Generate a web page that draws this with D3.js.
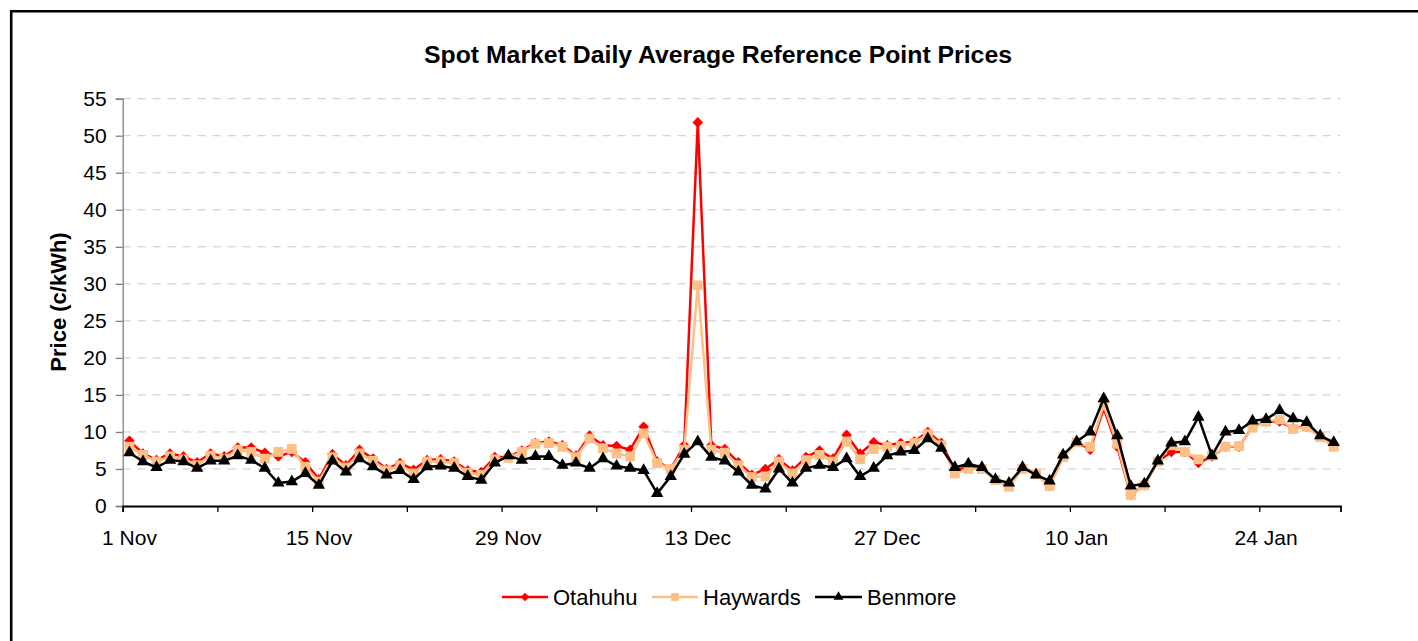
<!DOCTYPE html>
<html>
<head>
<meta charset="utf-8">
<script src="https://cdn.jsdelivr.net/npm/d3@7"></script>
<style>
  html, body { margin: 0; padding: 0; background: #fff; }
  svg { display: block; }
  text { font-family: "Liberation Sans", Arial, Helvetica, sans-serif; }
</style>
</head>
<body>
<svg id="chart" width="1418" height="641"></svg>
<script>
// ---------- data ----------
const title = "Spot Market Daily Average Reference Point Prices";
const yTitle = "Price (c/kWh)";
const seriesNames = ["Otahuhu", "Haywards", "Benmore"];
const startDate = "2007-11-01";
const dayCount = 90;
const xTickLabels = ["1 Nov", "15 Nov", "29 Nov", "13 Dec", "27 Dec", "10 Jan", "24 Jan"];
const yTicks = [0, 5, 10, 15, 20, 25, 30, 35, 40, 45, 50, 55];

const otahuhu = [
  8.8, 7.1, 6.2, 7.1, 6.7, 5.9, 7.1, 6.7, 7.9, 7.9,
  7.2, 6.7, 7.3, 5.9, 3.6, 7.0, 5.5, 7.6, 6.4, 5.0,
  5.8, 4.9, 6.2, 6.3, 6.0, 4.8, 4.6, 6.6, 6.6, 7.5,
  8.5, 8.7, 8.2, 6.8, 9.5, 8.2, 8.1, 7.6, 10.7, 6.0,
  5.0, 8.2, 51.8, 8.2, 7.7, 5.9, 4.2, 5.0, 6.3, 4.8,
  6.6, 7.5, 6.4, 9.6, 7.1, 8.6, 8.2, 8.5, 8.7, 10.0,
  8.5, 4.9, 5.2, 5.1, 3.5, 2.7, 5.1, 4.4, 2.7, 6.7,
  8.7, 7.6, 13.2, 8.0, 1.5, 2.8, 6.0, 7.3, 7.3, 5.8,
  6.7, 8.0, 8.0, 10.7, 11.4, 11.4, 10.5, 10.7, 9.4, 8.1
];
const haywards = [
  8.0, 6.9, 6.0, 6.7, 6.3, 5.5, 6.8, 6.4, 7.6, 7.3,
  6.4, 7.3, 7.7, 5.3, 3.3, 6.6, 5.2, 7.1, 6.1, 4.8,
  5.5, 4.4, 6.0, 6.0, 5.8, 4.5, 4.2, 6.3, 6.5, 7.3,
  8.4, 8.5, 8.0, 6.6, 9.1, 7.8, 7.1, 6.7, 9.8, 5.8,
  5.0, 7.6, 29.8, 7.6, 7.2, 5.5, 3.9, 4.0, 6.0, 4.4,
  6.2, 6.9, 6.0, 8.7, 6.3, 7.7, 8.0, 8.1, 8.5, 9.7,
  8.2, 4.4, 5.0, 5.0, 3.5, 2.6, 5.0, 4.3, 2.7, 6.6,
  8.6, 8.0, 13.6, 8.4, 1.5, 2.8, 6.0, 8.2, 7.3, 6.3,
  6.8, 8.0, 8.1, 10.6, 11.4, 11.7, 10.4, 10.7, 9.3, 8.0
];
const benmore = [
  7.2, 6.0, 5.2, 6.2, 6.0, 5.1, 6.1, 6.1, 6.8, 6.2,
  5.1, 3.1, 3.3, 4.4, 2.8, 6.1, 4.6, 6.4, 5.3, 4.2,
  4.8, 3.6, 5.3, 5.4, 5.1, 4.0, 3.5, 5.8, 6.8, 6.2,
  6.7, 6.7, 5.5, 5.8, 5.1, 6.4, 5.4, 5.1, 4.8, 1.7,
  4.0, 7.0, 8.7, 6.6, 6.1, 4.6, 2.8, 2.3, 5.0, 3.1,
  5.1, 5.5, 5.2, 6.4, 4.0, 5.1, 6.8, 7.3, 7.5, 9.1,
  7.8, 5.2, 5.7, 5.2, 3.6, 3.1, 5.2, 4.2, 3.4, 6.9,
  8.7, 10.0, 14.5, 9.5, 2.7, 3.0, 6.1, 8.5, 8.7, 12.0,
  6.8, 10.0, 10.2, 11.5, 11.7, 12.9, 11.8, 11.3, 9.5, 8.6
];

// ---------- layout ----------
const svg = d3.select("#chart");
const plot = { left: 122.7, right: 1340.5, top: 98.7, bottom: 506 };
const FONT = '"Liberation Sans", Arial, Helvetica, sans-serif';

svg.append("rect").attr("width", 1418).attr("height", 641).attr("fill", "#fff");
// outer chart border (only top and left visible in the frame)
svg.append("path").attr("d", "M11.2,700 V11.2 H1500")
  .attr("fill", "none").attr("stroke", "#000").attr("stroke-width", 2.6);

const start = d3.utcParse("%Y-%m-%d")(startDate);
const end = d3.utcDay.offset(start, dayCount);
const days = d3.utcDay.range(start, end);

const x = d3.scaleUtc().domain([start, end]).range([plot.left, plot.right]);
const y = d3.scaleLinear().domain([0, 55]).range([plot.bottom, plot.top]);
const xc = d => x(d3.utcHour.offset(d, 12)); // centre of the day slot

// gridlines
svg.append("g").selectAll("line").data(yTicks.filter(v => v > 0)).join("line")
  .attr("x1", plot.left).attr("x2", plot.right)
  .attr("y1", d => y(d)).attr("y2", d => y(d))
  .attr("stroke", "#c8c8c8").attr("stroke-width", 1)
  .attr("stroke-dasharray", "8,7");

// y axis
const yAxis = svg.append("g").attr("transform", `translate(${plot.left},0)`)
  .call(d3.axisLeft(y).tickValues(yTicks).tickSize(7).tickPadding(9).tickFormat(d3.format("d")));
yAxis.select(".domain").attr("stroke", "#7f7f7f").attr("stroke-width", 1.3);
yAxis.selectAll(".tick line").attr("stroke", "#7f7f7f").attr("stroke-width", 1.3);
yAxis.selectAll(".tick text").attr("font-family", FONT).attr("font-size", 21).attr("fill", "#000");

// x axis (ticks every 7 days)
const tickDates = d3.utcDay.range(start, end, 7);
const xAxis = svg.append("g").attr("transform", `translate(0,${plot.bottom})`)
  .call(d3.axisBottom(x).tickValues(tickDates).tickSize(6).tickFormat(""));
xAxis.select(".domain").attr("stroke", "#000").attr("stroke-width", 1.8);
xAxis.selectAll(".tick line").attr("stroke", "#000").attr("stroke-width", 1.3);

// x labels centred on their day slot
svg.append("g").selectAll("text").data(xTickLabels).join("text")
  .attr("x", (d, i) => xc(tickDates[i * 2]))
  .attr("y", 545)
  .attr("text-anchor", "middle")
  .attr("font-family", FONT).attr("font-size", 21).attr("fill", "#000")
  .text(d => d);

// title
svg.append("text").attr("x", 718).attr("y", 63)
  .attr("text-anchor", "middle").attr("font-family", FONT)
  .attr("font-size", 24.8).attr("font-weight", "bold").text(title);

// y title
svg.append("text")
  .attr("transform", "translate(66,302) rotate(-90)")
  .attr("text-anchor", "middle").attr("font-family", FONT)
  .attr("font-size", 22).attr("font-weight", "bold").text(yTitle);

// ---------- series ----------
const series = [
  { name: seriesNames[0], values: otahuhu, color: "#ff0000", shape: "diamond" },
  { name: seriesNames[1], values: haywards, color: "#fcc086", shape: "square" },
  { name: seriesNames[2], values: benmore, color: "#000000", shape: "triangle" }
];

function markerPath(shape, scale) {
  const s = scale || 1;
  if (shape === "diamond") return d3.symbol(d3.symbolSquare, 56 * s * s)();
  if (shape === "square") return d3.symbol(d3.symbolSquare, 96 * s * s)();
  return d3.symbol(d3.symbolTriangle, 66 * s * s)();
}
function markerRotate(shape) { return shape === "diamond" ? " rotate(45)" : ""; }

const line = d3.line().x((v, i) => xc(days[i])).y(v => y(v));

series.forEach(s => {
  const g = svg.append("g");
  g.append("path").datum(s.values).attr("d", line)
    .attr("fill", "none").attr("stroke", s.color).attr("stroke-width", 2.5)
    .attr("stroke-linejoin", "round");
  g.selectAll("path.m").data(s.values).join("path").attr("class", "m")
    .attr("d", markerPath(s.shape))
    .attr("transform", (v, i) => `translate(${xc(days[i])},${y(v)})${markerRotate(s.shape)}`)
    .attr("fill", s.color);
});

// ---------- legend ----------
const legendItems = [
  { s: series[0], x1: 502, x2: 548, tx: 553 },
  { s: series[1], x1: 652, x2: 698, tx: 703 },
  { s: series[2], x1: 815, x2: 862, tx: 867 }
];
const lg = svg.append("g");
legendItems.forEach(it => {
  lg.append("line").attr("x1", it.x1).attr("x2", it.x2).attr("y1", 597).attr("y2", 597)
    .attr("stroke", it.s.color).attr("stroke-width", 2.5);
  lg.append("path").attr("d", markerPath(it.s.shape, 0.8))
    .attr("transform", `translate(${(it.x1 + it.x2) / 2},597)${markerRotate(it.s.shape)}`)
    .attr("fill", it.s.color);
  lg.append("text").attr("x", it.tx).attr("y", 605)
    .attr("font-family", FONT).attr("font-size", 22).attr("fill", "#000")
    .text(it.s.name);
});
</script>
</body>
</html>
